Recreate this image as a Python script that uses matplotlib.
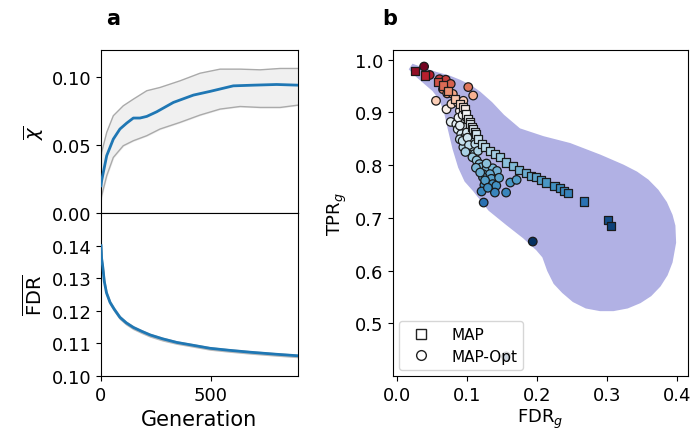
import numpy as np
import matplotlib
matplotlib.use("Agg")
from matplotlib import pyplot as plt
from matplotlib.colors import TwoSlopeNorm
from matplotlib.lines import Line2D

# panel a: mean chi over generations with band
chi_gen = [0, 3, 26, 56, 86, 117, 147, 177, 208, 253, 329, 420, 495, 601, 692, 798, 895]
chi_mean = [0.020, 0.0238, 0.0422, 0.0544, 0.0618, 0.0662, 0.0699, 0.0699, 0.0711, 0.0745,
            0.0814, 0.0868, 0.0895, 0.0936, 0.0941, 0.0946, 0.0941]
band_gen = [0, 3, 26, 56, 101, 147, 208, 268, 359, 450, 541, 632, 723, 814, 895]
chi_hi = [0.040, 0.0446, 0.0593, 0.0716, 0.0789, 0.0838, 0.0900, 0.0924, 0.0973, 0.1029,
          0.1059, 0.1059, 0.1054, 0.1064, 0.1064]
chi_lo = [0.010, 0.0127, 0.0274, 0.0409, 0.0495, 0.0532, 0.0569, 0.0618, 0.0667, 0.0721,
          0.0765, 0.0784, 0.0777, 0.0777, 0.0794]

# panel a: mean FDR over generations
fdr_gen = [0, 3, 8, 15, 25, 41, 60, 86, 115, 147, 185, 223, 280, 344, 420, 495, 580, 677, 790, 895]
fdr_mean = [0.1400, 0.1360, 0.1335, 0.1290, 0.1255, 0.1226, 0.1205, 0.1180, 0.1163, 0.1149,
            0.1137, 0.1126, 0.1114, 0.1103, 0.1094, 0.1085, 0.1079, 0.1073, 0.1067, 0.1062]
fdr_lo = [0.1396, 0.1355, 0.1330, 0.1285, 0.1250, 0.1221, 0.1200, 0.1175, 0.1158, 0.1144,
          0.1132, 0.1121, 0.1109, 0.1099, 0.1090, 0.1081, 0.1075, 0.1069, 0.1063, 0.1058]
fdr_hi = [0.1403, 0.1363, 0.1338, 0.1293, 0.1258, 0.1229, 0.1208, 0.1183, 0.1166, 0.1152,
          0.1140, 0.1129, 0.1117, 0.1106, 0.1097, 0.1088, 0.1082, 0.1076, 0.1070, 0.1065]

# panel b: MAP points
map_fdr = [0.026, 0.040, 0.059, 0.066, 0.073, 0.083, 0.090, 0.094, 0.097, 0.099, 0.102, 0.104,
           0.105, 0.107, 0.109, 0.111, 0.113, 0.116, 0.121, 0.126, 0.133, 0.140, 0.147, 0.156,
           0.166, 0.175, 0.185, 0.192, 0.199, 0.206, 0.213, 0.225, 0.233, 0.238, 0.244, 0.267,
           0.301, 0.306]
map_tpr = [0.979, 0.970, 0.957, 0.951, 0.941, 0.925, 0.916, 0.910, 0.906, 0.897, 0.887, 0.882,
           0.878, 0.873, 0.868, 0.863, 0.859, 0.849, 0.840, 0.834, 0.827, 0.821, 0.815, 0.805,
           0.799, 0.791, 0.785, 0.780, 0.777, 0.772, 0.767, 0.761, 0.756, 0.751, 0.747, 0.731,
           0.696, 0.685]

# panel b: MAP-Opt points
opt_fdr = [0.039, 0.047, 0.061, 0.070, 0.077, 0.066, 0.072, 0.080, 0.102, 0.109, 0.056, 0.071,
           0.078, 0.087, 0.095, 0.090, 0.077, 0.085, 0.092, 0.097, 0.087, 0.092, 0.097, 0.090,
           0.099, 0.106, 0.095, 0.104, 0.109, 0.111, 0.108, 0.114, 0.118, 0.121, 0.128, 0.137,
           0.143, 0.123, 0.133, 0.123, 0.135, 0.125, 0.137, 0.142, 0.121, 0.140, 0.156, 0.162,
           0.171, 0.124, 0.194, 0.156,
           0.088, 0.094, 0.100, 0.090, 0.100, 0.094, 0.101, 0.103, 0.112, 0.116, 0.098, 0.113,
           0.119, 0.126, 0.130, 0.146, 0.128]
opt_tpr = [0.987, 0.971, 0.963, 0.962, 0.954, 0.944, 0.936, 0.935, 0.948, 0.932, 0.922, 0.906,
           0.916, 0.919, 0.922, 0.903, 0.882, 0.878, 0.884, 0.873, 0.868, 0.859, 0.853, 0.849,
           0.843, 0.846, 0.834, 0.830, 0.834, 0.821, 0.815, 0.809, 0.802, 0.796, 0.793, 0.794,
           0.789, 0.783, 0.783, 0.777, 0.774, 0.762, 0.764, 0.761, 0.750, 0.748, 0.748, 0.767,
           0.772, 0.729, 0.655, 0.437,
           0.890, 0.895, 0.890, 0.875, 0.862, 0.846, 0.852, 0.838, 0.840, 0.827, 0.825, 0.795,
           0.786, 0.771, 0.757, 0.776, 0.803]

# panel b: outline of the shaded density region
blob_fdr = [0.023, 0.040, 0.056, 0.075, 0.090, 0.105, 0.118, 0.135, 0.152, 0.175, 0.209, 0.247,
            0.290, 0.323, 0.342, 0.358, 0.372, 0.384, 0.392, 0.396, 0.397, 0.392, 0.385, 0.375,
            0.362, 0.347, 0.329, 0.309, 0.290, 0.270, 0.252, 0.237, 0.225, 0.216, 0.209, 0.200,
            0.181, 0.157, 0.132, 0.110, 0.098, 0.089, 0.081, 0.074, 0.069, 0.062, 0.052, 0.038,
            0.026, 0.019]
blob_tpr = [0.990, 0.982, 0.975, 0.968, 0.960, 0.950, 0.938, 0.918, 0.894, 0.868, 0.853, 0.840,
            0.818, 0.799, 0.786, 0.771, 0.752, 0.729, 0.705, 0.685, 0.653, 0.616, 0.592, 0.571,
            0.553, 0.540, 0.530, 0.525, 0.525, 0.530, 0.542, 0.559, 0.576, 0.600, 0.626, 0.640,
            0.663, 0.688, 0.715, 0.752, 0.770, 0.796, 0.831, 0.870, 0.900, 0.925, 0.942, 0.958,
            0.972, 0.982]

plt.rcParams["font.family"] = ["DejaVu Sans"]
fig = plt.figure(figsize=(6.95, 4.31), dpi=100)

ax1 = fig.add_axes([0.1453, 0.5035, 0.2835, 0.3782])
ax2 = fig.add_axes([0.1453, 0.1253, 0.2835, 0.3782], sharex=ax1)
ax3 = fig.add_axes([0.5655, 0.1253, 0.4245, 0.7564])

# chi panel
ax1.fill_between(band_gen, chi_lo, chi_hi, color="#f0f0f0", zorder=1)
ax1.plot(band_gen, chi_hi, color="#aaaaaa", lw=1.0, zorder=2)
ax1.plot(band_gen, chi_lo, color="#aaaaaa", lw=1.0, zorder=2)
ax1.plot(chi_gen, chi_mean, color="#1f77b4", lw=2.0, zorder=3)
ax1.set_ylim(0, 0.12)
ax1.set_yticks([0.0, 0.05, 0.10])
ax1.set_yticklabels(["0.00", "0.05", "0.10"])
ax1.set_ylabel(r"$\overline{\chi}$", fontsize=14)
ax1.tick_params(axis="x", bottom=False, labelbottom=False)
ax1.tick_params(labelsize=13)

# FDR panel
ax2.fill_between(fdr_gen, fdr_lo, fdr_hi, color="#bbbbbb", zorder=1)
ax2.plot(fdr_gen, fdr_mean, color="#1f77b4", lw=2.0, zorder=3)
ax2.set_ylim(0.10, 0.15)
ax2.set_yticks([0.10, 0.11, 0.12, 0.13, 0.14])
ax2.set_xlim(0, 895)
ax2.set_xticks([0, 500])
ax2.set_xlabel("Generation", fontsize=15)
ax2.set_ylabel(r"$\overline{\mathrm{FDR}}$", fontsize=14)
ax2.tick_params(labelsize=13)

# scatter panel
ax3.fill(blob_fdr, blob_tpr, color="#b1b1e4", ec="#b1b1e4", lw=1.5, zorder=1)
norm = TwoSlopeNorm(vmin=0.67, vcenter=0.9, vmax=0.99)
ax3.scatter(opt_fdr, opt_tpr, c=opt_tpr, cmap="RdBu_r", norm=norm, marker="o", s=38,
            edgecolors="#1a1a1a", linewidths=0.9, zorder=2)
ax3.scatter(map_fdr, map_tpr, c=map_tpr, cmap="RdBu_r", norm=norm, marker="s", s=34,
            edgecolors="#1a1a1a", linewidths=0.9, zorder=3)
ax3.set_xlim(-0.0053, 0.4155)
ax3.set_ylim(0.40, 1.0184)
ax3.set_xticks([0.0, 0.1, 0.2, 0.3, 0.4])
ax3.set_yticks([0.5, 0.6, 0.7, 0.8, 0.9, 1.0])
ax3.set_xlabel(r"FDR$_g$", fontsize=13, labelpad=2)
ax3.set_ylabel(r"TPR$_g$", fontsize=13)
ax3.tick_params(labelsize=13)

handles = [
    Line2D([], [], marker="s", ls="none", mfc="white", mec="#222222", ms=7, mew=1.0, label="MAP"),
    Line2D([], [], marker="o", ls="none", mfc="white", mec="#222222", ms=7, mew=1.0, label="MAP-Opt"),
]
ax3.legend(handles=handles, loc="lower left", fontsize=11, framealpha=0.8,
           handletextpad=1.0, borderaxespad=0.4, labelspacing=0.45)

fig.text(0.163, 0.955, "a", fontsize=15, fontweight="bold", ha="center", va="center")
fig.text(0.561, 0.955, "b", fontsize=15, fontweight="bold", ha="center", va="center")

fig.savefig("out.png", dpi=100)
